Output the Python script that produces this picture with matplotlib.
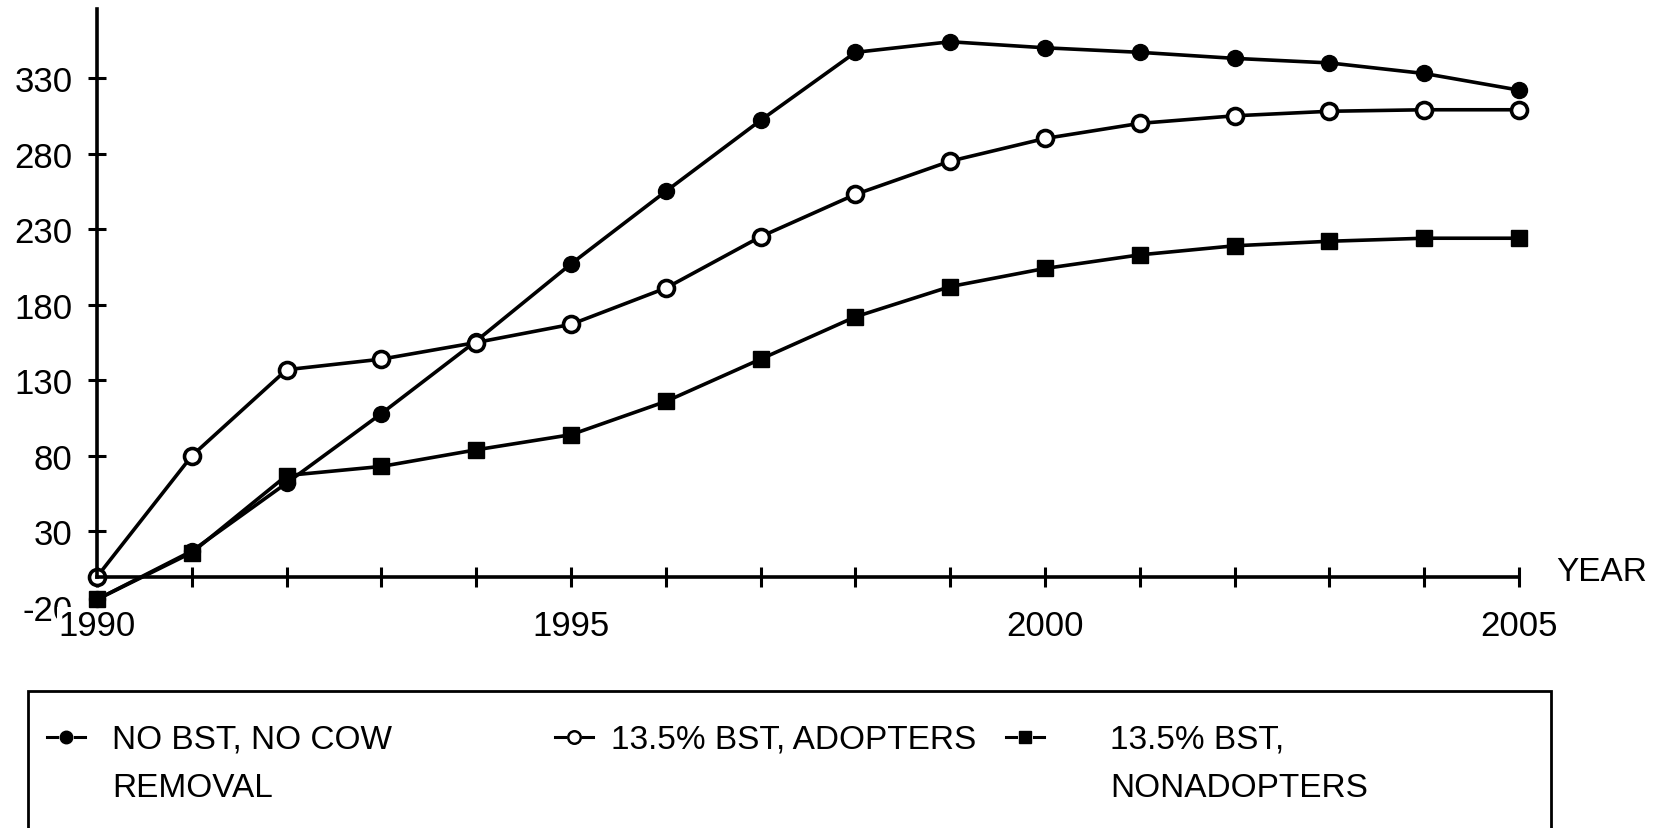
import matplotlib
matplotlib.use("Agg")
import matplotlib.pyplot as plt
from matplotlib.lines import Line2D
from matplotlib.patches import Rectangle

plt.rcParams['font.family'] = ['Liberation Sans', 'DejaVu Sans']

years = list(range(1990, 2006))
no_bst = [-15, 17, 62, 108, 156, 207, 255, 302, 347, 354, 350, 347, 343, 340, 333, 322]
adopters = [0, 80, 137, 144, 155, 167, 191, 225, 253, 275, 290, 300, 305, 308, 309, 309]
nonadopters = [-15, 16, 67, 73, 84, 94, 116, 144, 172, 192, 204, 213, 219, 222, 224, 224]
series_labels = ["NO BST, NO COW\nREMOVAL", "13.5% BST, ADOPTERS", "13.5% BST,\nNONADOPTERS"]
yticks = [-20, 30, 80, 130, 180, 230, 280, 330]
xlabel_years = [1990, 1995, 2000, 2005]

W, H = 1666, 829
fig = plt.figure(figsize=(W / 100, H / 100), dpi=100)
ax = fig.add_axes([97 / W, 1 - 608 / H, (1519 - 97) / W, 598.5 / H])

styles = [dict(marker='o', mfc='black', mec='black', mew=1),
          dict(marker='o', mfc='white', mec='black', mew=2.6),
          dict(marker='s', mfc='black', mec='black', mew=1)]
for vals, st in zip([no_bst, adopters, nonadopters], styles):
    ax.plot(years, vals, color='black', lw=2.6, ms=11.5, clip_on=False, **st)

ax.set_xlim(1990, 2005)
ax.set_ylim(-20, 376)
for s in ['top', 'right']:
    ax.spines[s].set_visible(False)
ax.spines['bottom'].set_position(('data', 0))
ax.spines['left'].set_bounds(0, 376)
ax.spines['bottom'].set_linewidth(2.6)
ax.spines['left'].set_linewidth(2.6)

ax.set_xticks(years)
ax.set_xticklabels([str(y) if y in xlabel_years else '' for y in years])
ax.set_yticks(yticks)
ax.set_yticklabels([str(v) for v in yticks])
ax.tick_params(axis='x', direction='inout', length=14, width=2.2, pad=16, labelsize=25)
ax.tick_params(axis='y', direction='inout', length=13, width=2.2, pad=11, labelsize=25)
ax.yaxis.get_major_ticks()[0].tick1line.set_visible(False)
# the 1990 label hides part of the -20 label, like in the original
ax.xaxis.get_major_ticks()[0].label1.set_bbox(dict(facecolor='white', edgecolor='none', pad=1))
ax.yaxis.set_zorder(1.4)

ax.annotate('YEAR', xy=(2005, 0), xytext=(27, 4), textcoords='offset points',
            va='center', ha='left', fontsize=24, annotation_clip=False)

# legend box, drawn by hand
fig.add_artist(Rectangle((28 / W, -0.1), (1551 - 28) / W, 0.1 + 1 - 692 / H,
                         transform=fig.transFigure, fill=False, edgecolor='black', lw=2))
marker_x = [66, 574, 1025]
text_x = [112, 611, 1110]
row_y = 1 - 738 / H
for st, mx, tx, lab in zip(styles, marker_x, text_x, series_labels):
    for a, b in [(mx - 19, mx - 9), (mx + 9, mx + 19)]:
        fig.add_artist(Line2D([a / W, b / W], [row_y, row_y], color='black', lw=2.2,
                              transform=fig.transFigure))
    st2 = dict(st)
    st2['mew'] = 1.8 if st['mfc'] == 'white' else 1
    fig.add_artist(Line2D([mx / W], [row_y], ms=9, linestyle='none',
                          transform=fig.transFigure, **st2))
    fig.text(tx / W, 1 - 725 / H, lab, va='top', ha='left', fontsize=24, linespacing=1.72)

fig.savefig('out.png', dpi=100)
